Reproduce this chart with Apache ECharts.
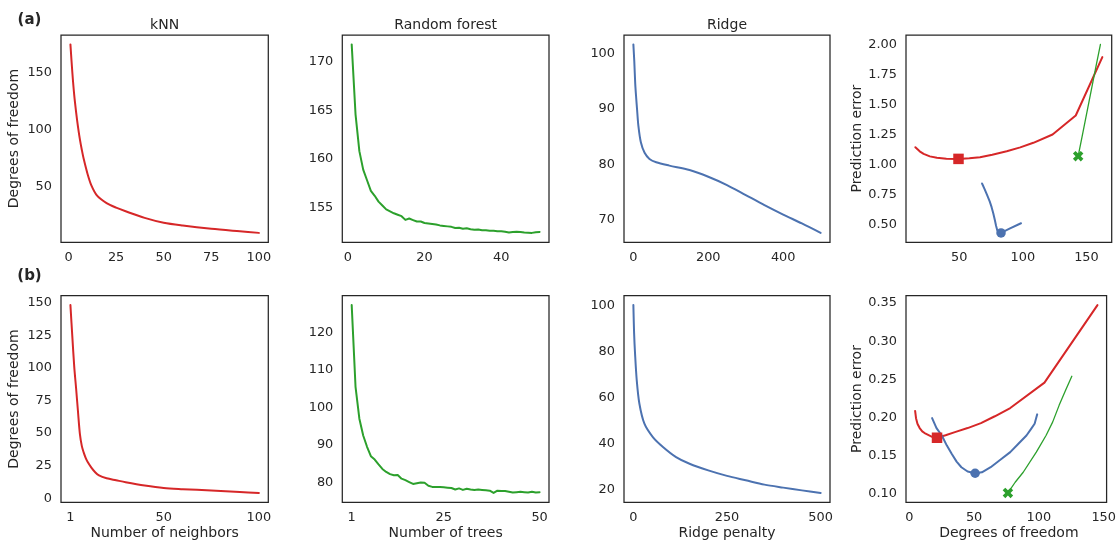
<!DOCTYPE html>
<html><head><meta charset="utf-8">
<script src="https://cdn.jsdelivr.net/npm/echarts@6/dist/echarts.min.js"></script>
<style>html,body{margin:0;padding:0;background:#fff}#c{width:1119px;height:540px}</style>
</head><body><div id="c"></div>
<script>
// ---------- DATA ----------
// (a) kNN: number of neighbors -> degrees of freedom
const knnA_k  = [1,2,3,4,5,6,7,8,10,12,15,20,25,30,40,50,60,75,90,100];
const knnA_df = [174.4,150,130,115,102,91,82,74,61,51,42,35.5,31.5,28.3,22.5,18.2,15.8,13,10.8,9.4];
// (a) Random forest: number of trees -> degrees of freedom
const rfA_trees = [1,2,3,4,5,6,7,8,9,10,11,12,13,14,15,16,17,18,19,20,21,22,23,24,25,26,27,28,29,30,31,32,33,34,35,36,37,38,39,40,41,42,43,44,45,46,47,48,49,50];
const rfA_df = [171.8,164.6,160.8,158.9,157.8,156.7,156.2,155.6,155.2,154.8,154.6,154.4,154.25,154.1,153.72,153.86,153.7,153.55,153.55,153.4,153.35,153.3,153.25,153.15,153.1,153.05,153.0,152.88,152.9,152.8,152.85,152.75,152.7,152.72,152.65,152.65,152.6,152.6,152.55,152.55,152.5,152.42,152.48,152.5,152.48,152.42,152.4,152.38,152.45,152.48];
// (a) Ridge: penalty -> degrees of freedom
const ridgeA_pen = [0,2.5,5,7.5,10,13.5,20,30,43,61,96,150,200,250,300,350,400,450,500];
const ridgeA_df  = [101.6,98.5,94.5,92,89.8,86.9,84,82.1,81,80.4,79.8,79,77.8,76.3,74.5,72.7,71.0,69.4,67.7];
// (a) prediction error vs degrees of freedom
const errA_knn_df  = [15.6,19,22.1,27,32.5,40,49.5,58,66.4,76,87.4,98,108.3,123.4,141.6,162.5];
const errA_knn_err = [1.144,1.11,1.089,1.068,1.056,1.049,1.047,1.052,1.06,1.082,1.111,1.143,1.181,1.25,1.408,1.894];
const errA_rf_df   = [143.5,146.9,152.1,157.3,161.0];
const errA_rf_err  = [1.069,1.25,1.528,1.806,2.0];
const errA_ridge_df  = [68.0,70,72,74,75.5,76.8,78,79,80,81.3,82.9,90,98.6];
const errA_ridge_err = [0.842,0.795,0.745,0.693,0.645,0.595,0.54,0.49,0.45,0.434,0.431,0.468,0.511];
const bestA_knn = [49.5,1.047];
const bestA_rf = [143.5,1.069];
const bestA_ridge = [82.9,0.431];

// (b) kNN
const knnB_k  = [1,2,3,4,5,6,7,8,9,10,12,14,16,20,25,30,40,50,60,75,90,100];
const knnB_df = [148.2,124,101,84,66,49,40,35,31,28,23.5,20,17.5,15.3,13.8,12.3,9.8,7.9,7.0,5.9,4.8,4.1];
// (b) Random forest
const rfB_trees = rfA_trees;
const rfB_df = [127.3,105.5,97.0,92.5,89.5,87.0,86.1,84.8,83.6,82.8,82.2,81.9,82.0,81.0,80.6,80.1,79.6,79.8,80.0,79.9,79.1,78.8,78.8,78.8,78.7,78.6,78.5,78.1,78.4,78.0,78.3,78.1,78.0,78.1,78.0,77.9,77.8,77.2,77.8,77.7,77.7,77.5,77.3,77.4,77.5,77.4,77.3,77.5,77.3,77.4];
// (b) Ridge
const ridgeB_pen = [0,2,4.5,9,16,29.5,52,79,114,150,200,250,300,350,400,450,500];
const ridgeB_df  = [100.3,88,79.2,67.6,57.5,48.7,42.9,38.6,34.2,31.3,28.4,26,24.1,22.2,20.9,19.7,18.6];
// (b) prediction error vs degrees of freedom
const errB_knn_df  = [4.5,5.2,6.3,8,10,12.6,17.6,21.4,28,35.2,45,55.3,66,77.9,104.3,145.2];
const errB_knn_err = [0.2085,0.199,0.1917,0.186,0.1816,0.1786,0.1745,0.1733,0.1765,0.1807,0.186,0.1925,0.2015,0.2123,0.2456,0.3474];
const errB_rf_df   = [76.1,81.7,87.9,98,105.5,110.6,115.6,120.6,125.4];
const errB_rf_err  = [0.1009,0.1149,0.128,0.1544,0.1763,0.1938,0.2158,0.2355,0.254];
const errB_ridge_df  = [17.6,21,25.1,29,32.7,36.5,40.2,45,50.8,56,62.8,70,77.9,84,90.4,94,96.7,98.7];
const errB_ridge_err = [0.1991,0.186,0.1763,0.163,0.1522,0.142,0.1346,0.129,0.1267,0.128,0.1346,0.144,0.1544,0.165,0.1763,0.185,0.1917,0.204];
const bestB_knn = [21.4,0.1733];
const bestB_rf = [76.1,0.1009];
const bestB_ridge = [50.8,0.1267];

// tick labels
const ticksX = [[0,25,50,75,100],[0,20,40],[0,200,400],[50,100,150],[1,50,100],[1,25,50],[0,250,500],[0,50,100,150]];
const ticksY = [[50,100,150],[155,160,165,170],[70,80,90,100],[0.5,0.75,1.0,1.25,1.5,1.75,2.0],
                [0,25,50,75,100,125,150],[80,90,100,110,120],[20,40,60,80,100],[0.10,0.15,0.20,0.25,0.30,0.35]];
const colTitles = ['kNN','Random forest','Ridge'];
const xNames = ['Number of neighbors','Number of trees','Ridge penalty','Degrees of freedom'];

// ---------- CHART ----------
const RED='#d62728', GREEN='#2ca02c', BLUE='#4c72b0', TXT='#262626', FONT='DejaVu Sans';
const pairs=(xs,ys)=>xs.map((x,i)=>[x,ys[i]]);
const lefts=[61,342.3,624,906], widths=[207.3,206.7,206,205.7];
const tops=[35,295.7], heights=[207.3,206.6];

const panels=[
  [{x:knnA_k,y:knnA_df,c:RED,smooth:true}],
  [{x:rfA_trees,y:rfA_df,c:GREEN}],
  [{x:ridgeA_pen,y:ridgeA_df,c:BLUE,smooth:true}],
  [{x:errA_knn_df,y:errA_knn_err,c:RED},{x:errA_rf_df,y:errA_rf_err,c:GREEN,w:1.3},{x:errA_ridge_df,y:errA_ridge_err,c:BLUE}],
  [{x:knnB_k,y:knnB_df,c:RED,smooth:true}],
  [{x:rfB_trees,y:rfB_df,c:GREEN}],
  [{x:ridgeB_pen,y:ridgeB_df,c:BLUE,smooth:true}],
  [{x:errB_knn_df,y:errB_knn_err,c:RED},{x:errB_rf_df,y:errB_rf_err,c:GREEN,w:1.3},{x:errB_ridge_df,y:errB_ridge_err,c:BLUE}]
];
const markers={3:[[bestA_knn,'rect',RED,10.5],[bestA_rf,'X',GREEN,10.5],[bestA_ridge,'circle',BLUE,9.5]],
               7:[[bestB_knn,'rect',RED,10.5],[bestB_rf,'X',GREEN,10.5],[bestB_ridge,'circle',BLUE,9.5]]};
const XPATH='path://M0,2.5L2.5,0L5,2.5L7.5,0L10,2.5L7.5,5L10,7.5L7.5,10L5,7.5L2.5,10L0,7.5L2.5,5Z';

function ext(arrs){let mn=Infinity,mx=-Infinity;arrs.forEach(a=>a.forEach(v=>{mn=Math.min(mn,v);mx=Math.max(mx,v);}));const r=mx-mn;return [mn-0.05*r,mx+0.05*r];}

const grid=[],xAxis=[],yAxis=[],series=[];
panels.forEach((p,i)=>{
  const row=Math.floor(i/4),col=i%4;
  grid.push({left:lefts[col],top:tops[row],width:widths[col],height:heights[row],show:true,borderColor:TXT,borderWidth:1.25,backgroundColor:'#fff',containLabel:false});
  const xr=ext(p.map(s=>s.x)), yr=ext(p.map(s=>s.y));
  const lab={color:TXT,fontFamily:FONT,fontSize:12.9};
  const dec=(col===3);
  xAxis.push({type:'value',gridIndex:i,min:xr[0],max:xr[1],axisLine:{show:false},axisTick:{show:false},splitLine:{show:false},
    axisLabel:Object.assign({margin:8.5,customValues:ticksX[i]},lab)});
  yAxis.push({type:'value',gridIndex:i,min:yr[0],max:yr[1],axisLine:{show:false},axisTick:{show:false},splitLine:{show:false},
    axisLabel:Object.assign({margin:9,customValues:ticksY[i],formatter:dec?(v=>v.toFixed(2)):(v=>String(v))},lab)});
  p.forEach(s=>series.push({type:'line',xAxisIndex:i,yAxisIndex:i,data:pairs(s.x,s.y),showSymbol:false,symbol:'none',
    smooth:s.smooth?0.3:false,lineStyle:{color:s.c,width:s.w||2,cap:'round',join:'round'},z:2,silent:true,animation:false}));
  if(markers[i]) markers[i].forEach(m=>series.push({type:'scatter',xAxisIndex:i,yAxisIndex:i,data:[m[0]],
    symbol:m[1]==='X'?XPATH:m[1],symbolSize:m[3],itemStyle:{color:m[2],opacity:1},z:5,silent:true,animation:false}));
});

const T=(text,x,y,opt)=>Object.assign({type:'text',x:x,y:y,silent:true,style:Object.assign({text:text,fill:TXT,font:'14px "DejaVu Sans"',align:'center',verticalAlign:'middle'},opt&&opt.style||{})},opt&&opt.rot?{rotation:opt.rot}:{});
const graphic=[];
colTitles.forEach((t,c)=>graphic.push(T(t,lefts[c]+widths[c]/2,25.2)));
xNames.forEach((t,c)=>graphic.push(T(t,lefts[c]+widths[c]/2,533.6)));
graphic.push(T('Degrees of freedom',14.6,138.6,{rot:Math.PI/2}));
graphic.push(T('Degrees of freedom',14.6,399,{rot:Math.PI/2}));
graphic.push(T('Prediction error',857.4,138.6,{rot:Math.PI/2}));
graphic.push(T('Prediction error',857.4,399,{rot:Math.PI/2}));
graphic.push(T('(a)',29.5,20.5,{style:{font:'bold 15px "DejaVu Sans"'}}));
graphic.push(T('(b)',29.5,276.5,{style:{font:'bold 15px "DejaVu Sans"'}}));

const chart=echarts.init(document.getElementById('c'),null,{renderer:'canvas'});
chart.setOption({animation:false,backgroundColor:'#fff',grid,xAxis,yAxis,series,graphic});
</script></body></html>
